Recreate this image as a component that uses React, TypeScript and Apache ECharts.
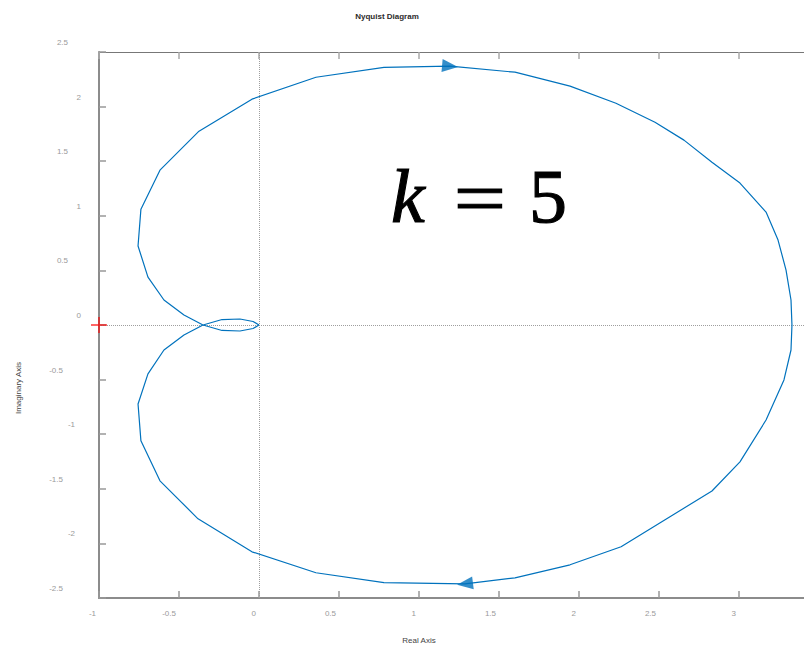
import React, { useEffect, useRef } from "react";
import * as echarts from "echarts";

// Nyquist contour, traced in drawing order (origin -> upper-left -> top -> right -> bottom -> lower-left -> origin)
const curveRe = [
  0, -0.037, -0.119, -0.231, -0.35, -0.469, -0.594, -0.694, -0.756, -0.738, -0.619, -0.375, -0.044, 0.356,
  0.781, 1.194, 1.6, 1.944, 2.231, 2.475, 2.656, 2.831, 3.006, 3.169, 3.244, 3.294, 3.325, 3.331, 3.325,
  3.281, 3.169, 3.006, 2.831, 2.65, 2.263, 1.944, 1.6, 1.2875, 0.781, 0.356, -0.044, -0.381, -0.619, -0.738, -0.756,
  -0.694, -0.594, -0.469, -0.35, -0.231, -0.119, -0.037, 0,
];
const curveIm = [
  0, -0.032, -0.055, -0.05, 0, 0.091, 0.229, 0.439, 0.723, 1.061, 1.418, 1.775, 2.068, 2.269,
  2.36, 2.37, 2.315, 2.187, 2.031, 1.857, 1.693, 1.491, 1.3, 1.034, 0.778, 0.503, 0.229, 0, -0.229,
  -0.503, -0.87, -1.253, -1.52, -1.683, -2.031, -2.196, -2.315, -2.37, -2.36, -2.269, -2.077, -1.775, -1.427, -1.061, -0.723,
  -0.448, -0.229, -0.091, 0, 0.05, 0.055, 0.032, 0,
];

// direction arrows on the contour
const arrowRe = [1.194, 1.2875];
const arrowIm = [2.37, -2.37];
const arrowAngle = [-95, 97];

// critical point -1 + 0j
const criticalRe = -1;
const criticalIm = 0;

const xMin = -1;
const xMax = 3.5;
const yMin = -2.5;
const yMax = 2.5;
const tickStep = 0.5;

const titleText = "Nyquist Diagram";
const xName = "Real Axis";
const yName = "Imaginary Axis";
const gainParts = ["k", "=", "5"];

const BLUE = "#0072BD";
const GRAY_TEXT = "#9a9a9a";
const SANS = '"Liberation Sans", Arial, sans-serif';

// the drawing surface is wider than the visible frame; its right edge is cut off
const VIEW_W = 804;
const VIEW_H = 648;
const CHART_W = 819;

export default function App() {
  const ref = useRef<HTMLDivElement>(null);

  useEffect(() => {
    if (!ref.current) return;
    const chart = echarts.init(ref.current, null, { renderer: "svg" });

    const curve = curveRe.map((x, i) => [x, curveIm[i]]);
    const arrows = arrowRe.map((x, i) => ({
      value: [x, arrowIm[i]],
      symbolRotate: arrowAngle[i],
    }));

    const labelBase = { fontSize: 8, color: GRAY_TEXT, fontFamily: SANS };
    const formulaStyle = {
      fill: "#000",
      stroke: "#000",
      lineWidth: 1.1,
      verticalAlign: "middle",
    };

    chart.setOption({
      animation: false,
      backgroundColor: "#ffffff",
      grid: { left: 99, top: 52, right: 0, bottom: 50, containLabel: false },
      xAxis: [
        {
          type: "value",
          min: xMin,
          max: xMax,
          interval: tickStep,
          position: "bottom",
          axisLine: { show: true, onZero: false, lineStyle: { color: "#8c8c8c", width: 2 } },
          axisTick: { show: true, inside: true, length: 7, lineStyle: { color: "#999", width: 1.5 } },
          splitLine: { show: false },
          axisLabel: {
            ...labelBase,
            margin: 11,
            align: "right",
            padding: [0, 3, 0, 0],
            showMaxLabel: true,
          },
        },
        {
          type: "value",
          min: xMin,
          max: xMax,
          interval: tickStep,
          position: "top",
          axisLine: { show: true, onZero: false, lineStyle: { color: "#777", width: 1.2 } },
          axisTick: { show: true, inside: true, length: 7, lineStyle: { color: "#aaa", width: 1.5 } },
          splitLine: { show: false },
          axisLabel: { show: false },
        },
      ],
      yAxis: [
        {
          type: "value",
          min: yMin,
          max: yMax,
          interval: tickStep,
          position: "left",
          axisLine: { show: true, onZero: false, lineStyle: { color: "#8c8c8c", width: 2 } },
          axisTick: { show: true, inside: true, length: 7, lineStyle: { color: "#999", width: 1.5 } },
          splitLine: { show: false },
          axisLabel: {
            ...labelBase,
            margin: 18,
            padding: [0, 0, 19, 0],
            formatter: (v: number) => {
              const half = Math.abs(v % 1) > 1e-9;
              const key = v >= 0 ? (half ? "b" : "a") : half ? "d" : "c";
              return `{${key}|${v}}`;
            },
            rich: {
              a: { ...labelBase, padding: [0, 0, 0, 0] },
              b: { ...labelBase, padding: [0, 13, 0, 0] },
              c: { ...labelBase, padding: [0, 6, 0, 0] },
              d: { ...labelBase, padding: [0, 18, 0, 0] },
            },
          },
        },
      ],
      series: [
        {
          type: "line",
          data: curve,
          showSymbol: false,
          symbol: "none",
          lineStyle: { color: BLUE, width: 1.2 },
          z: 3,
          markLine: {
            silent: true,
            symbol: ["none", "none"],
            label: { show: false },
            lineStyle: { type: "dotted", color: "#9e9e9e", width: 1 },
            data: [{ yAxis: 0 }, { xAxis: 0 }],
            z: 1,
          },
        },
        {
          type: "scatter",
          data: arrows,
          symbol: "triangle",
          symbolSize: [13, 16],
          itemStyle: { color: BLUE },
          z: 4,
        },
        {
          type: "scatter",
          data: [[criticalRe, criticalIm]],
          symbol:
            "path://M7.25,0h1.5v7.25h7.25v1.5h-7.25v7.25h-1.5v-7.25h-7.25v-1.5h7.25z",
          symbolSize: 16,
          itemStyle: { color: "#ff0000" },
          z: 5,
        },
      ],
      graphic: [
        {
          type: "text",
          x: 387,
          y: 16,
          style: {
            text: titleText,
            font: `bold 8px ${SANS}`,
            fill: "#2b2b2b",
            align: "center",
            verticalAlign: "middle",
          },
        },
        {
          type: "text",
          x: 419,
          y: 640,
          style: {
            text: xName,
            font: `8px ${SANS}`,
            fill: "#444",
            align: "center",
            verticalAlign: "middle",
          },
        },
        {
          type: "text",
          x: 18,
          y: 388,
          rotation: Math.PI / 2,
          style: {
            text: yName,
            font: `8px ${SANS}`,
            fill: "#444",
            align: "center",
            verticalAlign: "middle",
          },
        },
        {
          type: "text",
          x: 391,
          y: 196,
          style: {
            ...formulaStyle,
            text: gainParts[0],
            font: 'italic 76px "Liberation Serif", serif',
            align: "left",
          },
        },
        {
          type: "text",
          x: 480,
          y: 198,
          scaleX: 1.22,
          style: {
            ...formulaStyle,
            text: gainParts[1],
            font: '76px "Liberation Serif", serif',
            align: "center",
          },
        },
        {
          type: "text",
          x: 548,
          y: 196,
          style: {
            ...formulaStyle,
            text: gainParts[2],
            font: '76px "Liberation Serif", serif',
            align: "center",
          },
        },
      ],
    });

    return () => chart.dispose();
  }, []);

  return (
    <div
      style={{
        position: "absolute",
        left: 0,
        top: 0,
        width: VIEW_W,
        height: VIEW_H,
        overflow: "hidden",
        background: "#fff",
      }}
    >
      <div ref={ref} style={{ width: CHART_W, height: VIEW_H }} />
    </div>
  );
}
